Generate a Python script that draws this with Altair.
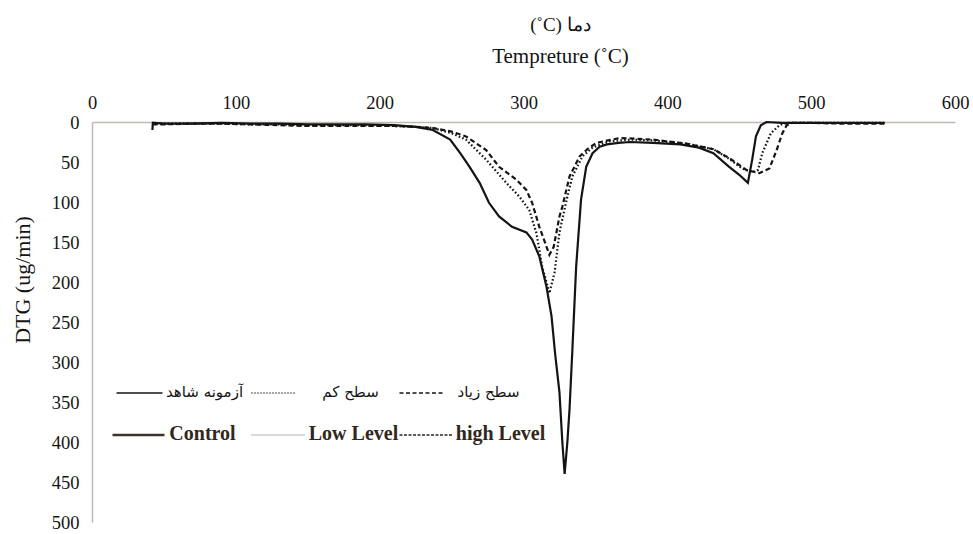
import altair as alt
import pandas as pd

# ---- data (temperature in °C, DTG in ug/min) ----
control_temp = [42, 42.3, 50, 70, 90, 110, 130, 150, 170, 190, 210, 225, 237, 249, 256,
                262.5, 269.5, 276, 283, 292, 302, 306, 311, 316, 319.5, 322, 325, 327,
                328.6, 330.5, 332, 334, 336.6, 340, 343.6, 348, 353, 358, 366, 374, 390,
                409, 422, 432, 443, 450, 456, 459, 461.6, 465, 469, 480, 500, 520, 551]
control_dtg = [10, 1, 2, 2, 1, 2, 2, 3, 3, 3, 4, 6, 10, 22, 39,
               56, 76, 101, 118, 131, 138, 147, 168, 206, 243, 290, 338, 400,
               440, 400, 359, 284, 181, 97, 56, 39, 31, 28, 26, 25, 26,
               28, 32, 39, 56, 66, 76, 47, 18, 4, 0, 1, 1, 1, 1]

low_temp = [42, 50, 70, 90, 110, 130, 150, 170, 190, 210, 225, 237, 250, 260, 274,
            288, 297, 304, 309, 313, 316, 318, 321.6, 325, 330, 334, 341, 348, 360,
            375, 390, 413, 432, 443, 452, 459, 463, 466, 472, 478, 483, 500, 520, 551]
low_dtg = [2, 2, 2, 2, 3, 3, 4, 4, 4, 5, 6, 7.5, 14, 22, 47,
           76, 93, 110, 139, 181, 200, 214, 188, 138, 97, 68, 43, 32, 24,
           22, 23, 27, 34, 46, 58, 63, 60, 39, 14, 4, 1, 1, 1, 1]

high_temp = [42, 50, 70, 90, 110, 130, 150, 170, 190, 210, 225, 237, 250, 260, 274,
             283, 295, 302, 306, 311, 316, 318, 321, 325, 327, 332, 339, 345, 351,
             367, 390, 413, 432, 443, 455, 464, 471, 476, 480, 483, 487, 500, 520, 551]
high_dtg = [3, 3, 2, 2, 3, 4, 5, 5, 5, 5, 6, 7.5, 12, 18, 35,
            56, 72, 85, 101, 131, 156, 166, 156, 118, 106, 68, 43, 33, 26,
            20, 22, 27, 34, 45, 60, 64, 58, 35, 14, 4, 1, 1, 2, 2]

x_ticks = [0, 100, 200, 300, 400, 500, 600]
y_ticks = [0, 50, 100, 150, 200, 250, 300, 350, 400, 450, 500]

rows = []
for name, xs, ys in [("Control", control_temp, control_dtg),
                     ("Low Level", low_temp, low_dtg),
                     ("high Level", high_temp, high_dtg)]:
    for t, v in zip(xs, ys):
        rows.append({"series": name, "temp": t, "dtg": v})
df = pd.DataFrame(rows)

W, H = 863, 400
SERIF = "Liberation Serif"
INK = "#141414"

x_enc = alt.X("temp:Q", scale=alt.Scale(domain=[0, 600], nice=False, zero=False),
              axis=alt.Axis(orient="top", values=x_ticks, title=None, labelPadding=10,
                            labelFlush=False))
y_enc = alt.Y("dtg:Q", scale=alt.Scale(domain=[0, 500], reverse=True, nice=False),
              axis=alt.Axis(values=y_ticks, title=None, labelPadding=13))

base = alt.Chart(df)
solid = base.transform_filter(alt.datum.series == "Control").mark_line(
    color=INK, strokeWidth=2.2).encode(x=x_enc, y=y_enc)
dotted = base.transform_filter(alt.datum.series == "Low Level").mark_line(
    color=INK, strokeWidth=2.2, strokeDash=[1.6, 2.2]).encode(x=x_enc, y=y_enc)
dashed = base.transform_filter(alt.datum.series == "high Level").mark_line(
    color=INK, strokeWidth=2.2, strokeDash=[5, 3]).encode(x=x_enc, y=y_enc)

one = pd.DataFrame({"k": [0]})


def label(txt, x, y, size, font=SERIF, weight="normal", color=INK, angle=0):
    return alt.Chart(one).mark_text(
        text=txt, fontSize=size, font=font, fontWeight=weight, color=color,
        align="center", baseline="middle", angle=angle
    ).encode(x=alt.value(x), y=alt.value(y))


def seg(x1, x2, y, color, width, dash=None):
    kw = dict(color=color, strokeWidth=width)
    if dash:
        kw["strokeDash"] = dash
    return alt.Chart(one).mark_rule(**kw).encode(
        x=alt.value(x1), x2=alt.value(x2), y=alt.value(y))


annotations = [
    label("(˚C) دما", 468.5, -97, 19),
    label("Tempreture (˚C)", 468.5, -65, 21),
    label("DTG (ug/min)", -69.5, 158, 22, angle=270),
    # legend row 1 (Persian)
    seg(24.5, 70.5, 271, INK, 1.6),
    label("آزمونه شاهد", 112.5, 270, 15, font="DejaVu Sans"),
    seg(159.5, 202.5, 271, INK, 1.6, [1, 2]),
    label("سطح کم", 258.5, 270, 15, font="DejaVu Sans"),
    seg(307.5, 350.5, 271, INK, 1.6, [4, 2.5]),
    label("سطح زیاد", 396.5, 270, 15, font="DejaVu Sans"),
    # legend row 2 (English)
    seg(20.5, 72.5, 313, "#3a3330", 2.4),
    label("Control", 110.5, 312, 20, weight="bold", color="#33271d"),
    seg(159.5, 212.5, 313, "#9a9a9a", 1.6, [1, 1]),
    label("Low Level", 261.5, 312, 20, weight="bold", color="#33271d"),
    seg(307.5, 360.5, 313, "#2a2522", 1.6, [3, 1.5]),
    label("high Level", 408.5, 312, 20, weight="bold", color="#33271d"),
]

chart = alt.layer(solid, dotted, dashed, *annotations).properties(
    width=W, height=H,
    autosize=alt.AutoSizeParams(type="none"),
    padding={"left": 92, "top": 122, "right": 18, "bottom": 12},
    background="white",
).configure_view(stroke=None).configure_axis(
    grid=False, ticks=False, domainColor="#c2b8b3", domainWidth=1.5,
    labelFont=SERIF, labelFontSize=18.5, labelColor=INK,
)

chart.save("out.html", embed_options={"renderer": "svg", "actions": False})
